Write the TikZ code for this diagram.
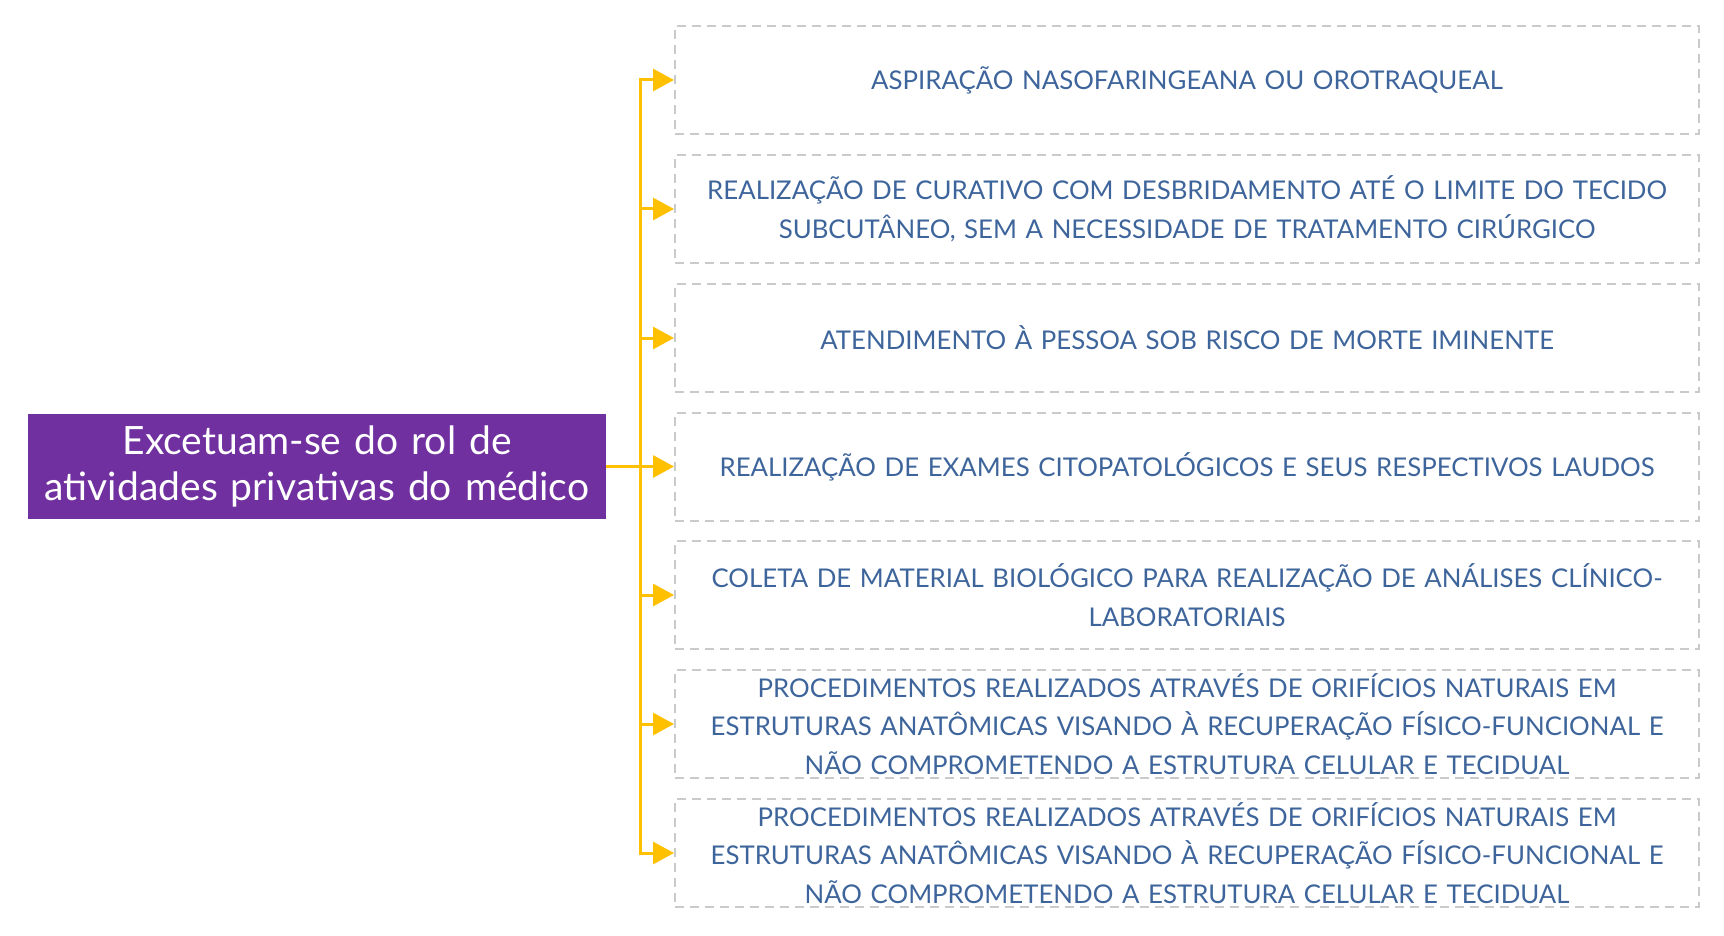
\documentclass[tikz,border=0pt]{standalone}
\usepackage{fontspec}
\setmainfont{Lato}
\usetikzlibrary{arrows.meta}
\definecolor{purp}{HTML}{7030A0}
\definecolor{gold}{HTML}{FFC000}
\definecolor{txtblue}{HTML}{3E659B}
\definecolor{dgray}{HTML}{CACACA}
\tikzset{
  itembox/.style={draw=dgray, line width=2pt, dash pattern=on 9pt off 6pt, minimum width=1024pt, minimum height=108pt, text width=1010pt, align=center, text=txtblue, font=\fontsize{25.8}{38.5}\selectfont, inner sep=0pt},
  mainbox/.style={fill=purp, minimum width=578pt, minimum height=105pt, text width=570pt, align=center, text=white, font=\fontsize{39}{46}\selectfont, inner sep=0pt},
  conn/.style={draw=gold, line width=3pt, -{Triangle[length=21pt,width=22pt]}}
}
\begin{document}
\begin{tikzpicture}[x=1pt,y=1pt]
\useasboundingbox (0,0) rectangle (1724,-936);
\node[mainbox] (m) at (317,-466.5) {Excetuam-se do rol de\\atividades privativas do médico};
\node[itembox] (b1) at (1187,-80) {ASPIRAÇÃO NASOFARINGEANA OU OROTRAQUEAL};
\node[itembox] (b2) at (1187,-209) {REALIZAÇÃO DE CURATIVO COM DESBRIDAMENTO ATÉ O LIMITE DO TECIDO\\SUBCUTÂNEO, SEM A NECESSIDADE DE TRATAMENTO CIRÚRGICO};
\node[itembox] (b3) at (1187,-338) {ATENDIMENTO À PESSOA SOB RISCO DE MORTE IMINENTE};
\node[itembox] (b4) at (1187,-466.5) {REALIZAÇÃO DE EXAMES CITOPATOLÓGICOS E SEUS RESPECTIVOS LAUDOS};
\node[itembox] (b5) at (1187,-595) {COLETA DE MATERIAL BIOLÓGICO PARA REALIZAÇÃO DE ANÁLISES CLÍNICO-\\LABORATORIAIS};
\node[itembox] (b6) at (1187,-724) {PROCEDIMENTOS REALIZADOS ATRAVÉS DE ORIFÍCIOS NATURAIS EM\\ESTRUTURAS ANATÔMICAS VISANDO À RECUPERAÇÃO FÍSICO-FUNCIONAL E\\NÃO COMPROMETENDO A ESTRUTURA CELULAR E TECIDUAL};
\node[itembox] (b7) at (1187,-853) {PROCEDIMENTOS REALIZADOS ATRAVÉS DE ORIFÍCIOS NATURAIS EM\\ESTRUTURAS ANATÔMICAS VISANDO À RECUPERAÇÃO FÍSICO-FUNCIONAL E\\NÃO COMPROMETENDO A ESTRUTURA CELULAR E TECIDUAL};
\coordinate (sp) at (640,-466.5);
\foreach \b in {b1,b2,b3,b4,b5,b6,b7}{
  \draw[conn] (m.east) -- (sp) |- (\b.west);
}
\end{tikzpicture}
\end{document}
